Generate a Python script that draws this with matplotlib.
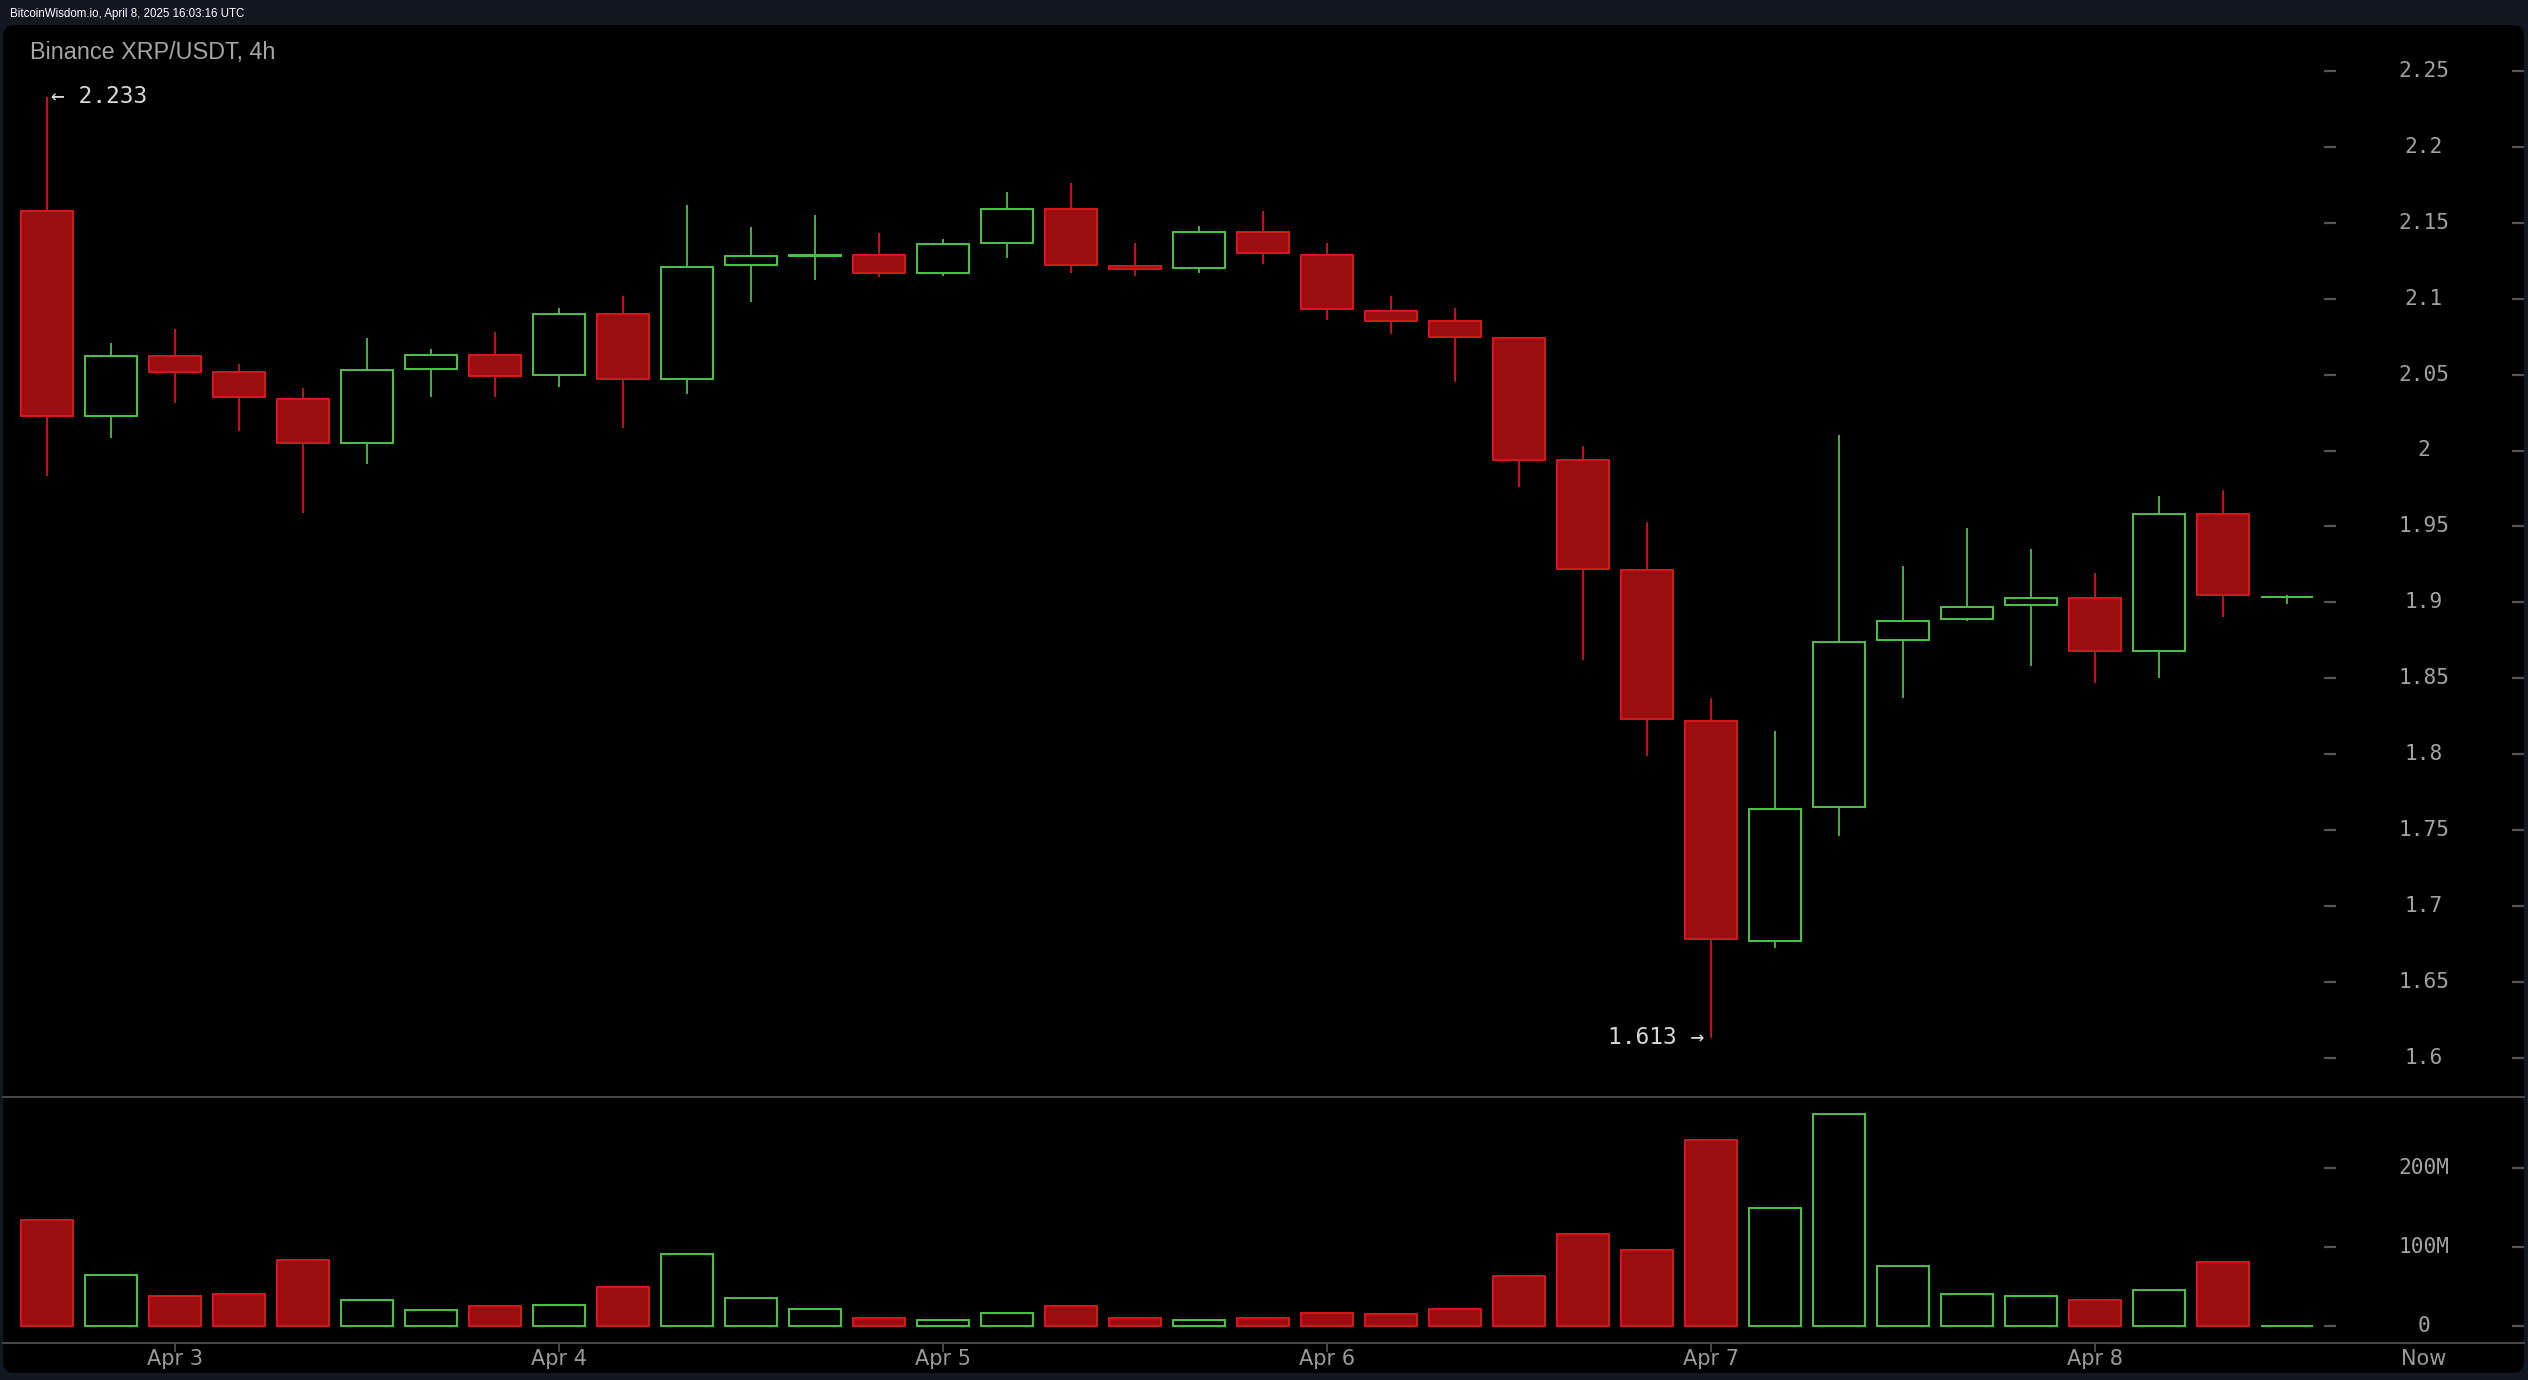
import numpy as np
import matplotlib.pyplot as plt
from matplotlib.patches import FancyBboxPatch
from matplotlib.transforms import IdentityTransform, blended_transform_factory

# 4h candles, Binance XRP/USDT
opens = [2.158, 2.023, 2.062, 2.052, 2.034, 2.005, 2.054, 2.063, 2.050, 2.090,
         2.047, 2.122, 2.128, 2.129, 2.117, 2.137, 2.159, 2.1215, 2.120, 2.144,
         2.129, 2.092, 2.085, 2.074, 1.994, 1.921, 1.822, 1.677, 1.765, 1.875,
         1.889, 1.898, 1.903, 1.868, 1.958, 1.9035]
highs = [2.233, 2.071, 2.080, 2.057, 2.041, 2.074, 2.067, 2.078, 2.094, 2.102,
         2.162, 2.147, 2.155, 2.143, 2.139, 2.170, 2.176, 2.137, 2.148, 2.158,
         2.137, 2.102, 2.094, 2.074, 2.003, 1.953, 1.837, 1.815, 2.010, 1.924,
         1.949, 1.935, 1.919, 1.970, 1.974, 1.905]
lows = [1.983, 2.008, 2.031, 2.013, 1.959, 1.991, 2.035, 2.035, 2.042, 2.015,
        2.037, 2.098, 2.112, 2.114, 2.115, 2.127, 2.117, 2.115, 2.117, 2.123,
        2.086, 2.077, 2.045, 1.976, 1.862, 1.799, 1.613, 1.672, 1.746, 1.837,
        1.888, 1.858, 1.847, 1.850, 1.890, 1.899]
closes = [2.023, 2.062, 2.052, 2.035, 2.005, 2.053, 2.063, 2.049, 2.090, 2.047,
          2.121, 2.128, 2.129, 2.117, 2.136, 2.159, 2.122, 2.1195, 2.144, 2.130,
          2.093, 2.085, 2.075, 1.994, 1.922, 1.823, 1.678, 1.764, 1.874, 1.888,
          1.897, 1.903, 1.868, 1.958, 1.905, 1.9038]
# volume in millions
volumes = [134, 65, 38, 40, 83, 33, 20, 25, 27, 50,
           91, 35, 22, 10, 7, 17, 25, 10, 7, 10,
           17, 15, 22, 63, 116, 96, 235, 149, 268, 76,
           40, 38, 33, 45, 81, 0.5]

date_idx = [2, 8, 14, 20, 26, 32]
date_labels = ["Apr 3", "Apr 4", "Apr 5", "Apr 6", "Apr 7", "Apr 8"]
price_ticks = [2.25, 2.2, 2.15, 2.1, 2.05, 2.0, 1.95, 1.9, 1.85, 1.8, 1.75, 1.7, 1.65, 1.6]
vol_ticks = [0, 100, 200]
vol_tick_labels = ["0", "100M", "200M"]
high_note = "\u2190 2.233"
low_note = "1.613 \u2192"

W, H = 2528, 1380
red_fill = "#9a0e12"
red_edge = "#d3171b"
green = "#46c146"
grid_c = "#474747"
label_c = "#a3a3a3"
mono = ["DejaVu Sans Mono", "DejaVu Sans"]

fig = plt.figure(figsize=(W / 100, H / 100), dpi=100, facecolor="#131722")

# black rounded panel
panel = FancyBboxPatch((3, H - 1373), 2521, 1348, boxstyle="round,pad=0,rounding_size=12",
                       transform=IdentityTransform(), facecolor="black", edgecolor="none", zorder=0)
fig.add_artist(panel)

# x: candle i sits at 47 + 64*i pixels
x_lo = (3 - 47) / 64
x_hi = (2524 - 47) / 64
label_x = (2424 - 47) / 64

ax = fig.add_axes([3 / W, 1 - 1097 / H, 2521 / W, (1097 - 25) / H])
ax_v = fig.add_axes([3 / W, 1 - 1343 / H, 2521 / W, (1343 - 1097) / H])
for a in (ax, ax_v):
    a.set_facecolor("none")
    a.set_xlim(x_lo, x_hi)
    for s in a.spines.values():
        s.set_visible(False)
    a.set_xticks([])
    a.set_yticks([])

ax.set_ylim(2.25 - (1097 - 71) / 1518, 2.25 + (71 - 25) / 1518)
ax_v.set_ylim((1326 - 1343) / 0.79, (1326 - 1097) / 0.79)

x = np.arange(len(opens))
o = np.array(opens)
c = np.array(closes)
up = c >= o
body_w = 0.80
lw_edge = 1.45
lw_wick = 1.3

# wicks first, bodies on top so hollow bodies hide them
wick_colors = [green if u else red_edge for u in up]
ax.vlines(x, lows, highs, colors=wick_colors, linewidth=lw_wick, zorder=2)
ax.bar(x, np.abs(c - o), bottom=np.minimum(o, c), width=body_w,
       color=[("black" if u else red_fill) for u in up],
       edgecolor=wick_colors, linewidth=lw_edge, zorder=3)

# volume bars
ax_v.bar(x, volumes, width=body_w,
         color=[("black" if u else red_fill) for u in up],
         edgecolor=wick_colors, linewidth=lw_edge, zorder=3)

# price axis labels and small dashes
dl = ((2324 - 47) / 64, (2336 - 47) / 64)
dr = ((2512 - 47) / 64, (2524 - 47) / 64)
for p in price_ticks:
    ax.hlines(p, *dl, colors="#555555", linewidth=1.6)
    ax.hlines(p, *dr, colors="#555555", linewidth=1.6)
    ax.text(label_x, p, "{:g}".format(p), ha="center", va="center",
            fontsize=15.2, color=label_c, family=mono)
for v, lab in zip(vol_ticks, vol_tick_labels):
    ax_v.hlines(v, *dl, colors="#555555", linewidth=1.6)
    ax_v.hlines(v, *dr, colors="#555555", linewidth=1.6)
    ax_v.text(label_x, v, lab, ha="center", va="center",
              fontsize=15.2, color=label_c, family=mono)

# separator lines
for yy in (1097, 1343):
    fig.add_artist(plt.Line2D([3, 2524], [H - yy, H - yy], transform=IdentityTransform(),
                              color=grid_c, linewidth=1.5))

# date axis
tr = blended_transform_factory(ax_v.transData, fig.transFigure)
ax_v.vlines(date_idx, 1 - 1352 / H, 1 - 1343 / H, colors="#555555", linewidth=1.2,
            transform=tr, clip_on=False)
for d, lab in zip(date_idx, date_labels):
    ax_v.text(d, 1 - 1359 / H, lab, transform=tr, ha="center", va="center",
              fontsize=15, color="#9a9a9a", clip_on=False)
ax_v.text(label_x, 1 - 1359 / H, "Now", transform=tr, ha="center", va="center",
          fontsize=15, color="#9a9a9a", clip_on=False)

# high / low notes
ax.text((51 - 47) / 64, highs[0], high_note, ha="left", va="center",
        fontsize=16.5, color="#d8d8d8", family=mono)
ax.text((1704 - 47) / 64, lows[26], low_note, ha="right", va="center",
        fontsize=16.5, color="#d8d8d8", family=mono)

# header texts
fig.text(10 / W, 1 - 14 / H, "BitcoinWisdom.io, April 8, 2025 16:03:16 UTC",
         ha="left", va="center", fontsize=8.3, color="white", family="Liberation Sans")
fig.text(30 / W, 1 - 52 / H, "Binance XRP/USDT, 4h", ha="left", va="center",
         fontsize=16.8, color="#a6a6a6", family="Liberation Sans")

fig.savefig("out.png", dpi=100, facecolor=fig.get_facecolor())
